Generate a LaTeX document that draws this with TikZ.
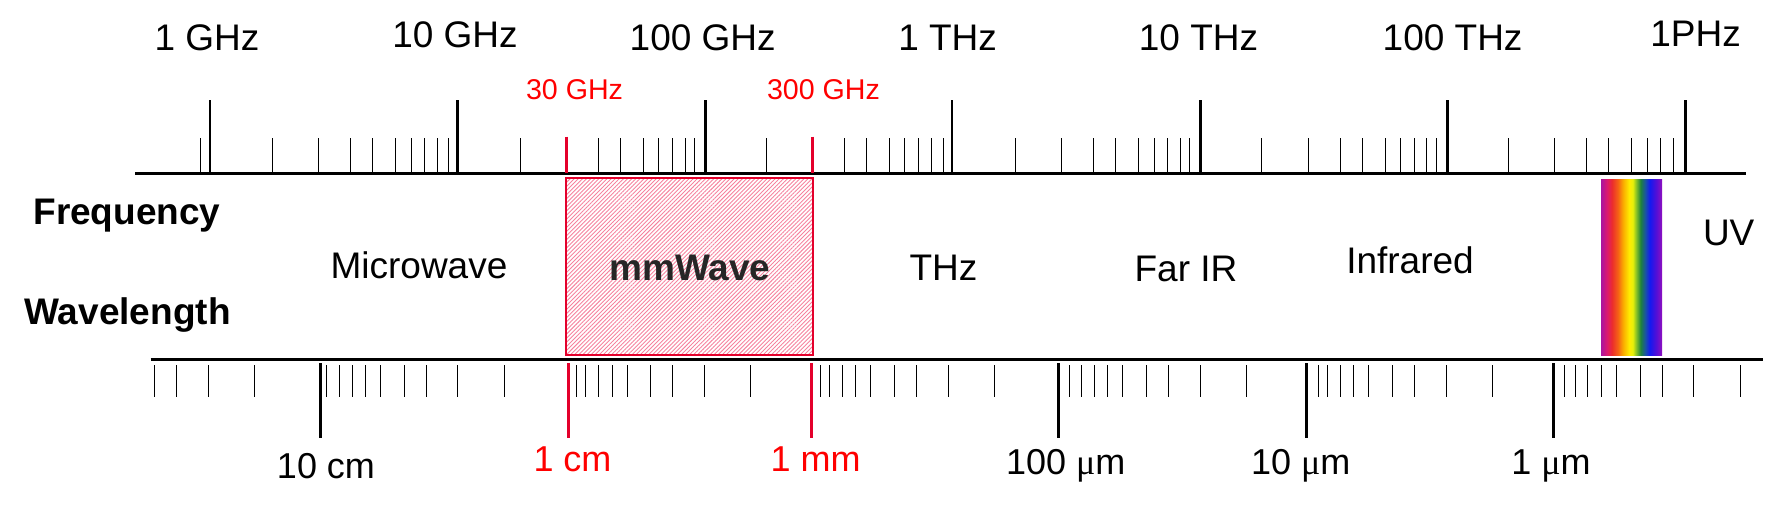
\documentclass[tikz,border=0pt]{standalone}
\usepackage{fontspec}
\setmainfont{Liberation Sans}
\newfontfamily\serifmu{Liberation Serif}
\usetikzlibrary{patterns.meta}
\definecolor{crim}{RGB}{228,0,43}
\definecolor{redtxt}{RGB}{255,0,0}
\definecolor{hatchpink}{RGB}{246,130,158}
\definecolor{mmtxt}{RGB}{38,38,38}
\definecolor{spA}{RGB}{170,20,160}
\definecolor{spB}{RGB}{220,25,110}
\definecolor{spC}{RGB}{235,45,45}
\definecolor{spD}{RGB}{245,100,20}
\definecolor{spE}{RGB}{250,170,0}
\definecolor{spF}{RGB}{255,235,0}
\definecolor{spG}{RGB}{230,240,10}
\definecolor{spH}{RGB}{130,190,40}
\definecolor{spI}{RGB}{30,130,60}
\definecolor{spJ}{RGB}{25,80,170}
\definecolor{spK}{RGB}{20,25,240}
\definecolor{spL}{RGB}{80,15,215}
\definecolor{spM}{RGB}{145,15,190}
\pgfdeclarehorizontalshading{spectrum}{100bp}{color(0bp)=(spA); color(25bp)=(spA); color(30bp)=(spB); color(34bp)=(spC); color(39bp)=(spD); color(43bp)=(spE); color(48bp)=(spF); color(51bp)=(spG); color(54bp)=(spH); color(57.5bp)=(spI); color(61.5bp)=(spJ); color(65bp)=(spK); color(70bp)=(spL); color(75bp)=(spM); color(100bp)=(spM)}
\tikzset{
  axisline/.style={line width=1.5pt},
  majortick/.style={line width=1.35pt},
  minortick/.style={line width=0.5pt},
  redtick/.style={line width=1.25pt, draw=crim},
  biglbl/.style={inner sep=0pt, anchor=base, font=\fontsize{18.5pt}{22pt}\selectfont},
  wavelbl/.style={inner sep=0pt, anchor=base, font=\fontsize{18pt}{22pt}\selectfont},
  smallred/.style={inner sep=0pt, anchor=base, text=redtxt, font=\fontsize{14.3pt}{17pt}\selectfont},
  boldlbl/.style={inner sep=0pt, anchor=base west, font=\fontsize{18.5pt}{22pt}\selectfont\bfseries},
}
\newcommand{\mus}{{\serifmu μ}}
\begin{document}
\begin{tikzpicture}[x=0.5pt,y=-0.5pt]
\useasboundingbox (0,0) rectangle (1777,511);
% mmWave box
\draw[draw=crim, line width=1pt, pattern={Lines[angle=45,distance=1.45pt,line width=0.45pt]}, pattern color=hatchpink] (565.7,177.7) rectangle (813.3,355);
% visible spectrum
\shade[shading=spectrum] (1601,179) rectangle (1662,355);
% axis lines
\draw[axisline] (135,173.7) -- (1746.3,173.7);
\draw[axisline] (150.7,359.3) -- (1762.7,359.3);
% top minor ticks
\foreach \x in {200.3, 272.7, 318.7, 350.3, 372.3, 395.3, 411.3, 424.3, 437.3, 448.3, 520.3, 598.7, 620.7, 643.7, 658.7, 672.7, 685.3, 694.7, 766.7, 844.3, 866.3, 889.3, 904.7, 918.3, 931.7, 943.3, 1015.7, 1061.3, 1093.3, 1115.7, 1138.7, 1154.7, 1167.7, 1180.3, 1189.3, 1261.7, 1308.7, 1340.3, 1362.3, 1385.3, 1400.3, 1414.3, 1426.3, 1436.3, 1508.3, 1554.3, 1586.3, 1608.3, 1631.7, 1647.3, 1660.3, 1673.3}
  \draw[minortick] (\x,138) -- (\x,172.5);
% top major ticks
\foreach \x in {210, 457.7, 705.3, 952, 1200.3, 1447.3, 1685.3}
  \draw[majortick] (\x,100) -- (\x,174);
% top red ticks
\foreach \x in {566.5, 812.7}
  \draw[redtick] (\x,136.5) -- (\x,172.5);
% bottom minor ticks
\foreach \x in {154.3, 176.3, 208.3, 254.3, 326.7, 339.3, 352.3, 365.3, 380.3, 404.3, 426.3, 457.7, 504.3, 576.3, 585.3, 598.7, 612.7, 627.3, 650.7, 672.7, 704.3, 750.3, 820.3, 829.3, 842.3, 855.3, 870.3, 894.7, 916.3, 948.3, 994.3, 1069.3, 1081.7, 1094.3, 1107.3, 1122.7, 1146.7, 1168.7, 1200.3, 1246.7, 1318.3, 1327.7, 1340.3, 1353.3, 1368.3, 1392.3, 1414.3, 1446.3, 1492.7, 1564.3, 1575.7, 1587.3, 1601.3, 1616.3, 1640.3, 1662.3, 1693.3, 1740.3}
  \draw[minortick] (\x,365) -- (\x,397);
% bottom major ticks
\foreach \x in {320.3, 1058.3, 1306.7, 1553.3}
  \draw[majortick] (\x,363) -- (\x,437.5);
\foreach \x in {568.3, 811.7}
  \draw[redtick] (\x,363) -- (\x,437.5);
% top labels
\node[biglbl] (f1) at (207,50.7) {1 GHz};
\node[biglbl] (f2) at (455,47.3) {10 GHz};
\node[biglbl] (f3) at (702.7,50.7) {100 GHz};
\node[biglbl] (f4) at (947.6,50.7) {1 THz};
\node[biglbl] (f5) at (1198.5,50) {10 THz};
\node[biglbl] (f6) at (1452.6,50) {100 THz};
\node[biglbl] (f7) at (1695.6,46.7) {1PHz};
\node[smallred] (r1) at (574.5,99.3) {30 GHz};
\node[smallred] (r2) at (823.5,99.3) {300 GHz};
% side labels
\node[boldlbl] (freq) at (33,224.5) {Frequency};
\node[boldlbl] (wave) at (24,324) {Wavelength};
% band labels
\node[biglbl] (b1) at (419,278.3) {Microwave};
\node[biglbl, text=mmtxt, font=\fontsize{18.5pt}{22pt}\selectfont\bfseries] (b2) at (690,280) {mmWave};
\node[biglbl] (b3) at (943.5,280) {THz};
\node[biglbl] (b4) at (1186,281.7) {Far IR};
\node[biglbl] (b5) at (1410,273.3) {Infrared};
\node[biglbl] (b6) at (1728.7,245) {UV};
% bottom labels
\node[wavelbl] (w1) at (326,478) {10 cm};
\node[wavelbl, text=redtxt] (w2) at (572.5,471.7) {1 cm};
\node[wavelbl, text=redtxt] (w3) at (815.6,471.7) {1 mm};
\node[wavelbl] (w4) at (1065.7,474) {100 \mus m};
\node[wavelbl] (w5) at (1300.8,474) {10 \mus m};
\node[wavelbl] (w6) at (1551,474) {1 \mus m};
\end{tikzpicture}
\end{document}
